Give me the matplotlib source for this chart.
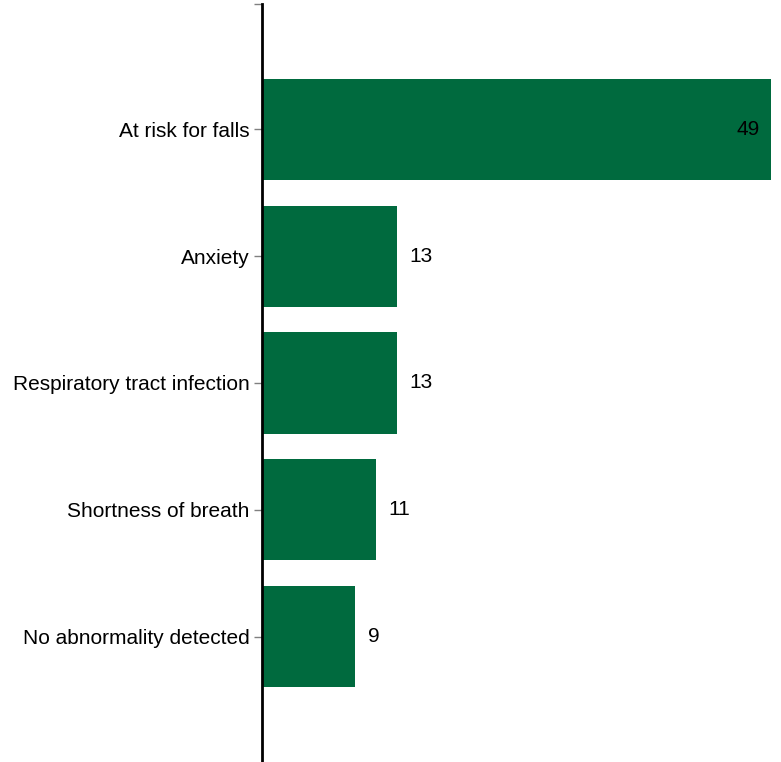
import matplotlib.pyplot as plt

plt.rcParams['font.family'] = ['Liberation Sans', 'DejaVu Sans']

# Datos del grafico
categorias = ['At risk for falls', 'Anxiety', 'Respiratory tract infection',
              'Shortness of breath', 'No abnormality detected']
valores = [49, 13, 13, 11, 9]

fig = plt.figure(figsize=(7.81, 7.62), dpi=100)
ax = fig.add_axes([262 / 781, 0, (771 - 262) / 781, 1 - 4 / 762])

pos = list(range(len(categorias)))
ax.barh(pos, valores, height=0.8, color='#006A3E')

ax.set_xlim(0, 49)
ax.set_ylim(4.99, -0.99)

ax.set_yticks(pos)
ax.set_yticklabels(categorias, fontsize=15)
ax.set_yticks([-0.99], minor=True)
ax.tick_params(axis='y', which='both', length=6, width=1, color='#808080', pad=3)
ax.set_xticks([])

for s in ['top', 'right', 'bottom']:
    ax.spines[s].set_visible(False)
ax.spines['left'].set_linewidth(2)
ax.spines['left'].set_color('black')

# Etiquetas de valores
for p, v in zip(pos, valores):
    if v > 40:
        ax.annotate(str(v), (v, p), xytext=(-8, 0), textcoords='offset points',
                    ha='right', va='center', fontsize=15)
    else:
        ax.annotate(str(v), (v, p), xytext=(9, 0), textcoords='offset points',
                    ha='left', va='center', fontsize=15)

fig.savefig('out.png', dpi=100)
